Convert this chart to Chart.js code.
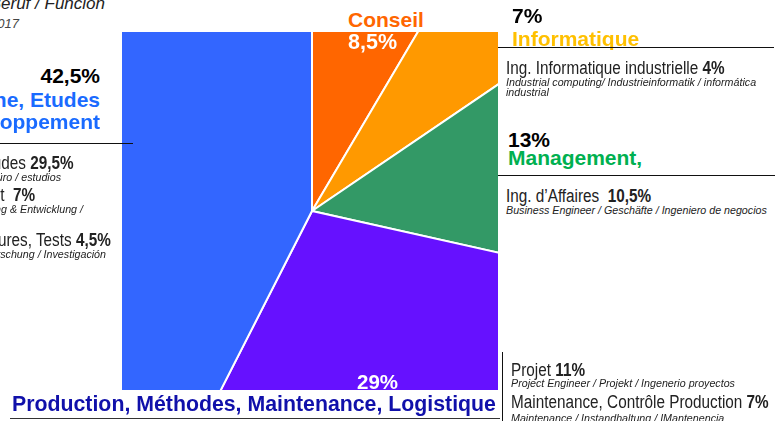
<!DOCTYPE html>
<html>
<head>
<meta charset="utf-8">
<script src="https://cdn.jsdelivr.net/npm/chart.js@4"></script>
<style>
  html, body { margin: 0; padding: 0; background: #fff; }
  body { width: 782px; height: 421px; position: relative; overflow: hidden; font-family: "Liberation Sans", Arial, sans-serif; }
  .t { position: absolute; white-space: nowrap; line-height: 1; }
  .big { font-size: 21px; font-weight: bold; }
  .nar { font-size: 18px; color: #222; transform: scaleX(0.85); transform-origin: left top; }
  .nar.r { transform-origin: right top; }
  .sm { font-size: 10.7px; font-style: italic; color: #222; line-height: 9.5px; }
  .hl { position: absolute; height: 1px; background: #111; }
  #pieBox { position: absolute; left: 122px; top: 32px; width: 376px; height: 358px; overflow: hidden; }
  #pieBox canvas { position: absolute; left: -90px; top: -101px; }
</style>
</head>
<body>
<div id="pieBox"><canvas id="jobChart" width="560" height="560"></canvas></div>

<!-- top left heading (cut off) -->
<div class="t" style="right:677px; top:-5px; font-size:17px; font-style:italic; color:#222;">Fonction / Function / Beruf / Función</div>
<div class="t" style="right:763px; top:17px; font-size:13px; font-style:italic; color:#444;">2017</div>

<!-- left block -->
<div class="t big" style="right:682px; top:65px; color:#000;">42,5%</div>
<div class="t big" style="right:682px; top:89px; color:#1a6bff;">Conception Machine, Etudes</div>
<div class="t big" style="right:682px; top:111px; color:#1a6bff;">Recherche &amp; Développement</div>
<div class="hl" style="left:0; top:143px; width:133px;"></div>
<div class="t nar r" style="right:708px; top:154px;">Bureau d'études <b>29,5%</b></div>
<div class="t sm" style="right:721px; top:173px;">Design office / Konstruktionsbüro / estudios</div>
<div class="t nar r" style="right:747px; top:186px;">Développement&nbsp; <b>7%</b></div>
<div class="t sm" style="right:699px; top:205px;">Research &amp; Development / Forschung &amp; Entwicklung /</div>
<div class="t nar r" style="right:671px; top:231px;">Essais, Mesures, Tests <b>4,5%</b></div>
<div class="t sm" style="right:676px; top:250px;">Research / Forschung / Investigación</div>

<!-- labels around the top -->
<div class="t big" style="left:348px; top:9px; color:#ff6600;">Conseil</div>
<div class="t" style="left:348px; top:32px; font-size:21.5px; font-weight:bold; color:#fff;">8,5%</div>

<!-- right block -->
<div class="t big" style="left:512px; top:5px; color:#000;">7%</div>
<div class="t big" style="left:512px; top:28px; color:#ffc000;">Informatique</div>
<div class="hl" style="left:498px; top:47px; width:276px;"></div>
<div class="t nar" style="left:506px; top:59px;">Ing. Informatique industrielle <b>4%</b></div>
<div class="t sm" style="left:506px; top:78px;">Industrial computing/ Industrieinformatik / informática<br>industrial</div>

<div class="t big" style="left:508px; top:129px; color:#000;">13%</div>
<div class="t big" style="left:508px; top:147px; color:#00b050;">Management,</div>
<div class="hl" style="left:498px; top:175px; width:277px;"></div>
<div class="t nar" style="left:506px; top:187px;">Ing. d’Affaires&nbsp; <b>10,5%</b></div>
<div class="t sm" style="left:506px; top:206px;">Business Engineer / Geschäfte / Ingeniero de negocios</div>

<!-- bottom -->
<div class="t" style="left:357px; top:372px; font-size:20.5px; font-weight:bold; color:#fff;">29%</div>
<div class="t" style="left:12px; top:394px; font-size:21.3px; font-weight:bold; color:#1010aa;">Production, Méthodes, Maintenance, Logistique</div>
<div class="hl" style="left:10px; top:418px; width:490px; background:#333;"></div>
<div style="position:absolute; left:502px; top:352px; width:1px; height:69px; background:#111;"></div>
<div class="t nar" style="left:511px; top:361px;">Projet <b>11%</b></div>
<div class="t sm" style="left:511px; top:379px;">Project Engineer / Projekt / Ingenerio proyectos</div>
<div class="t nar" style="left:511px; top:393px;">Maintenance, Contrôle Production <b>7%</b></div>
<div class="t sm" style="left:511px; top:414px;">Maintenance / Instandhaltung / IMantenencia</div>

<script>
// Job families, clockwise from the top
const families = ['Conseil', 'Informatique', 'Management', 'Production, Méthodes, Maintenance, Logistique', 'Conception, Etudes, Développement'];
const shares = [8.5, 7, 13, 29, 42.5];
const sliceColors = ['#ff6600', '#ff9900', '#339966', '#6611ff', '#3366ff'];

const jobCanvas = document.getElementById('jobChart').getContext('2d');

new Chart(jobCanvas, {
    type: 'pie',
    data: {
        labels: families,
        datasets: [{
            data: shares,
            backgroundColor: sliceColors,
            borderColor: '#ffffff',
            borderWidth: 2
        }]
    },
    options: {
        responsive: false,
        animation: false,
        layout: { padding: 0 },
        plugins: {
            legend: { display: false },
            tooltip: { enabled: false }
        }
    }
});
</script>
</body>
</html>
